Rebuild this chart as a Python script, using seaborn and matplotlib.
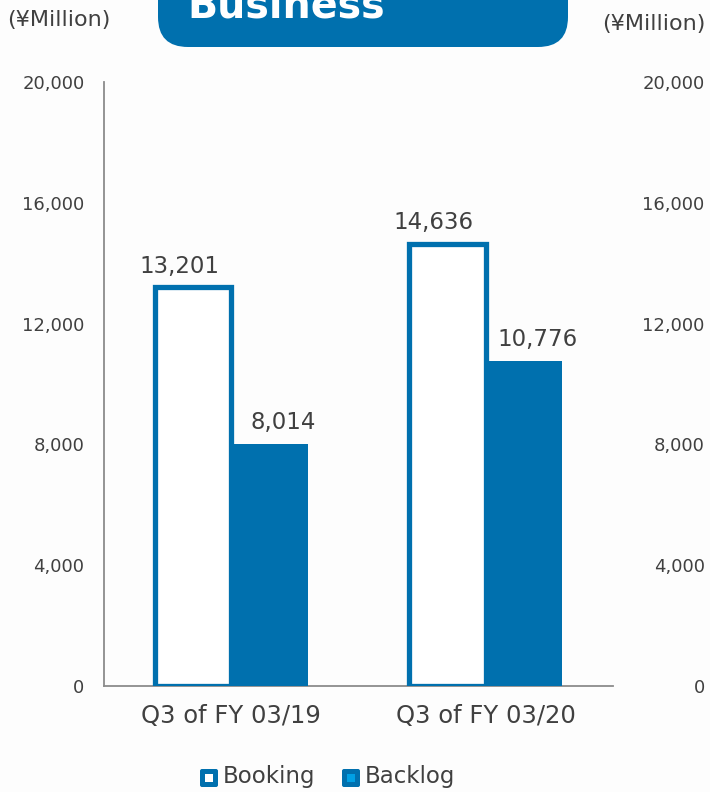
import matplotlib
matplotlib.use("Agg")
import matplotlib.pyplot as plt
import seaborn as sns
import pandas as pd
from matplotlib.patches import FancyBboxPatch, Rectangle

categories = ["Q3 of FY 03/19", "Q3 of FY 03/20"]
series = ["Booking", "Backlog"]
booking = [13201, 14636]
backlog = [8014, 10776]
yticks = [0, 4000, 8000, 12000, 16000, 20000]
ytick_labels = ["0", "4,000", "8,000", "12,000", "16,000", "20,000"]
unit_label = "(¥Million)"
title_text = "Business"

BLUE = "#0070ae"
LIGHT = "#00a0e4"
TXT = "#404040"
BG = "#fdfdfd"

df = pd.DataFrame({
    "category": categories * 2,
    "series": [series[0]] * 2 + [series[1]] * 2,
    "value": booking + backlog,
})

sns.set_theme(style="white")
plt.rcParams["font.family"] = ["DejaVu Sans"]

fig = plt.figure(figsize=(7.1, 7.92), dpi=100, facecolor=BG)
ax = fig.add_axes([104/710, 1-686/792, (613-104)/710, (686-82)/792])
ax.set_facecolor(BG)

sns.barplot(data=df, x="category", y="value", hue="series", order=categories,
            hue_order=series, width=0.6, gap=0, ax=ax, legend=False, errorbar=None)

c_book, c_back = ax.containers[0], ax.containers[1]
for p in c_book:
    p.set_facecolor("white")
    p.set_edgecolor(BLUE)
    p.set_linewidth(3.8)
    p.set_joinstyle("miter")
    p.set_zorder(3)
for p in c_back:
    p.set_facecolor(BLUE)
    p.set_edgecolor(BLUE)
    p.set_linewidth(0)
    p.set_zorder(2)

anns_b = ax.bar_label(c_book, labels=[f"{v:,}" for v in booking], padding=7, fontsize=16.5, color=TXT)
anns_k = ax.bar_label(c_back, labels=[f"{v:,}" for v in backlog], padding=7, fontsize=16.5, color=TXT)
for a in anns_b:
    a.xyann = (-10, 7)
for a in anns_k:
    a.xyann = (10, 7)

ax.set_xlim(-0.5, 1.5)
ax.set_ylim(0, 20000)
ax.set_yticks(yticks)
ax.set_yticklabels(ytick_labels)
ax.set_xlabel("")
ax.set_ylabel("")
ax.tick_params(axis="y", length=0, pad=14, labelsize=13, labelcolor=TXT)
ax.tick_params(axis="x", length=0, pad=13, labelsize=17.5, labelcolor=TXT)
for s in ["top", "right"]:
    ax.spines[s].set_visible(False)
for s in ["left", "bottom"]:
    ax.spines[s].set_color("#8c8c8c")
    ax.spines[s].set_linewidth(1.3)
ax.spines["bottom"].set_zorder(1)

ax2 = ax.twinx()
ax2.set_ylim(0, 20000)
ax2.set_yticks(yticks)
ax2.set_yticklabels(ytick_labels)
ax2.tick_params(axis="y", length=0, pad=66, labelsize=13, labelcolor=TXT)
for lab in ax2.get_yticklabels():
    lab.set_ha("right")
for s in ax2.spines.values():
    s.set_visible(False)
ax2.grid(False)
ax.grid(False)

# overlay axes in pixel coordinates
ov = fig.add_axes([0, 0, 1, 1], zorder=10)
ov.set_xlim(0, 710)
ov.set_ylim(792, 0)
ov.axis("off")
ov.patch.set_alpha(0)

ov.add_patch(FancyBboxPatch((158, -60), 410, 107, boxstyle="round,pad=0,rounding_size=30",
                            facecolor=BLUE, edgecolor="none"))
ov.text(187, 18, title_text, color="white", fontsize=28.5, fontweight="bold", va="baseline", ha="left")
ov.text(7, 20, unit_label, color=TXT, fontsize=16, va="center", ha="left")
ov.text(706, 24, unit_label, color=TXT, fontsize=16, va="center", ha="right")

# legend
ov.add_patch(FancyBboxPatch((200, 769), 18, 18, boxstyle="round,pad=0,rounding_size=2",
                            facecolor=BLUE, edgecolor="none"))
ov.add_patch(Rectangle((205, 774), 8, 8, facecolor="white", edgecolor="none"))
ov.text(223, 777, series[0], color=TXT, fontsize=16.5, va="center", ha="left")
ov.add_patch(FancyBboxPatch((342, 769), 18, 18, boxstyle="round,pad=0,rounding_size=2",
                            facecolor=BLUE, edgecolor="none"))
ov.add_patch(Rectangle((347, 774), 8, 8, facecolor=LIGHT, edgecolor="none"))
ov.text(365, 777, series[1], color=TXT, fontsize=16.5, va="center", ha="left")

fig.savefig("out.png", dpi=100, facecolor=BG)
